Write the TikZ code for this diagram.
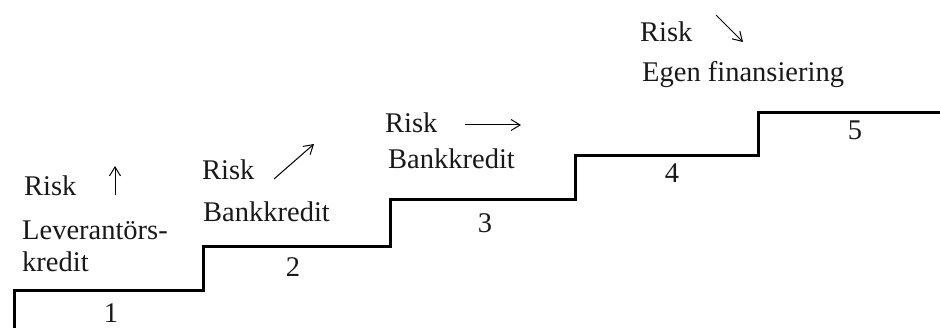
\documentclass[tikz,border=0pt]{standalone}
\usepackage{fontspec}
\setmainfont{Liberation Serif}
\usetikzlibrary{arrows.meta}
\begin{document}
\begin{tikzpicture}[x=1pt,y=-1pt,
  lbl/.style={anchor=base west,inner sep=0pt,font=\fontsize{28.5}{32}\selectfont,text=black!90},
  num/.style={anchor=base,inner sep=0pt,font=\fontsize{28.5}{32}\selectfont,text=black!90},
  riskarrow/.style={line width=1pt,-{Straight Barb[length=9pt,width=11pt]}},
  stair/.style={line width=3pt,line join=miter}]
\useasboundingbox (0,0) rectangle (940,328);
% staircase
\draw[stair] (14,330) -- (14,291) -- (203,291) -- (203,247) -- (390,247) -- (390,200)
  -- (575,200) -- (575,156) -- (758,156) -- (758,113) -- (942,113);
% step 1
\node[lbl] (r1) at (24,196) {Risk};
\coordinate (a1s) at (115,195);
\coordinate (a1e) at (115,166);
\draw[riskarrow] (a1s) -- (a1e);
\node[lbl] (t1a) at (22,240) {Leverantörs-};
\node[lbl] (t1b) at (22,272) {kredit};
\node[num] (n1) at (111,323) {1};
% step 2
\node[lbl] (r2) at (202,180) {Risk};
\coordinate (a2s) at (274,179);
\coordinate (a2e) at (314,144);
\draw[riskarrow] (a2s) -- (a2e);
\node[lbl] (t2) at (203,222) {Bankkredit};
\node[num] (n2) at (293,277) {2};
% step 3
\node[lbl] (r3) at (385,133) {Risk};
\coordinate (a3s) at (465,125);
\coordinate (a3e) at (521,125);
\draw[riskarrow] (a3s) -- (a3e);
\node[lbl] (t3) at (388,169) {Bankkredit};
\node[num] (n3) at (485,233) {3};
% step 4
\node[num] (n4) at (672,183) {4};
% step 5
\node[lbl] (r5) at (640,42) {Risk};
\coordinate (a5s) at (716,15);
\coordinate (a5e) at (743,42);
\draw[riskarrow] (a5s) -- (a5e);
\node[lbl] (t5) at (642,82) {Egen finansiering};
\node[num] (n5) at (855,140) {5};
\end{tikzpicture}
\end{document}
